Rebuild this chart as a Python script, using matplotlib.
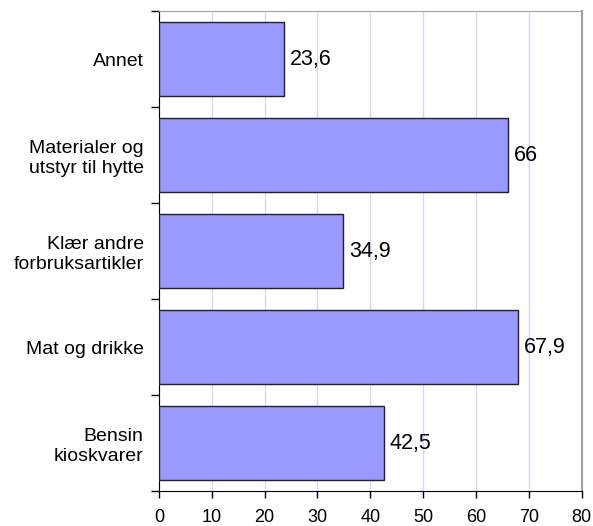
import numpy as np
import matplotlib.pyplot as plt

categories = ['Bensin\nkioskvarer', 'Mat og drikke', 'Klær andre\nforbruksartikler',
              'Materialer og\nutstyr til hytte', 'Annet']
values = [42.5, 67.9, 34.9, 66, 23.6]
value_labels = ['42,5', '67,9', '34,9', '66', '23,6']
xticks = [0, 10, 20, 30, 40, 50, 60, 70, 80]

plt.rcParams['font.family'] = ['Liberation Sans', 'DejaVu Sans']

fig = plt.figure(figsize=(5.93, 5.26), dpi=100)
ax = fig.add_axes([0.268, 0.0665, 0.713, 0.9125])

pos = np.arange(len(categories))
ax.barh(pos, values, height=0.77, color='#9999FF', edgecolor='#222222', linewidth=1, zorder=3)
for p, v, lab in zip(pos, values, value_labels):
    ax.text(v + 1.1, p, lab, va='center', ha='left', fontsize=15.5, zorder=4)

ax.set_xlim(0, 80)
ax.set_ylim(-0.5, len(categories) - 0.5)
ax.set_xticks(xticks)
ax.set_xticklabels([str(t) for t in xticks], fontsize=13)
ax.set_yticks(pos)
ax.set_yticklabels(categories, fontsize=14, linespacing=1.2)
ax.set_yticks(np.arange(len(categories) + 1) - 0.5, minor=True)
ax.tick_params(axis='y', which='major', length=0, pad=11)
ax.tick_params(axis='y', which='minor', length=6, width=1, color='black')
ax.tick_params(axis='x', length=5, width=1, color='black', pad=8)
ax.xaxis.grid(True, color='#D6D6F6', linewidth=1, zorder=0)
ax.set_axisbelow(True)

ax.spines['left'].set_color('black')
ax.spines['bottom'].set_color('black')
ax.spines['top'].set_color('#A0A0A0')
ax.spines['right'].set_color('#A0A0A0')
ax.spines['right'].set_linewidth(1.5)

fig.savefig('out.png', dpi=100)
